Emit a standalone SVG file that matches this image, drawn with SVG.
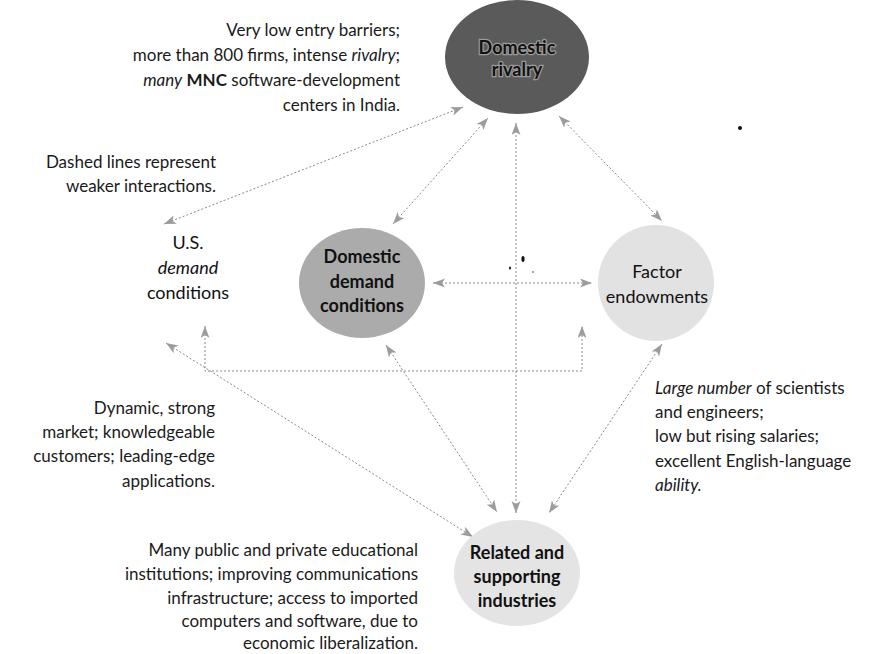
<svg xmlns="http://www.w3.org/2000/svg" width="881" height="654" viewBox="0 0 881 654">
<defs>
<style>
.t{font-family:Lato,"Open Sans","Liberation Sans",sans-serif;font-size:17px;fill:#1a1a1a}
.e{text-anchor:end}
.m{text-anchor:middle}
.n{font-family:Lato,"Open Sans","Liberation Sans",sans-serif;font-size:18px;text-anchor:middle;fill:#111}
.b{font-weight:bold}
.i{font-style:italic}
.c{fill:none;stroke:#8a8a8a;stroke-width:1;stroke-dasharray:2 2;marker-start:url(#ah);marker-end:url(#ah)}
.halo{paint-order:stroke;stroke:#9a9a9a;stroke-width:2.5px}
</style>
<marker id="ah" markerUnits="userSpaceOnUse" markerWidth="14" markerHeight="10" refX="12" refY="4.5" orient="auto-start-reverse">
<path d="M0,0 L12,4.5 L0,9 L3,4.5 z" fill="#9c9c9c"/>
</marker>
</defs>
<rect width="881" height="654" fill="#fff"/>

<g id="connectors">
<line class="c" x1="164" y1="224" x2="463" y2="107"/>
<line class="c" x1="393" y1="224" x2="488" y2="118"/>
<line class="c" x1="516" y1="123" x2="516" y2="513"/>
<line class="c" x1="559" y1="116" x2="662" y2="221"/>
<line class="c" x1="433" y1="283" x2="592" y2="283"/>
<path class="c" d="M205,326 V371 H582 V326"/>
<line class="c" x1="166" y1="343" x2="473" y2="537"/>
<line class="c" x1="386" y1="345" x2="497" y2="512"/>
<line class="c" x1="662" y1="344" x2="549" y2="513"/>
</g>

<g id="domestic-rivalry">
<ellipse cx="517" cy="57" rx="72" ry="57" fill="#5a5a5a"/>
<text class="n b halo" x="517" y="54">Domestic</text>
<text class="n b halo" x="517" y="76">rivalry</text>
</g>

<g id="domestic-demand">
<ellipse cx="362" cy="283" rx="63" ry="55" fill="#ababab"/>
<text class="n b" x="362" y="263">Domestic</text>
<text class="n b" x="362" y="288">demand</text>
<text class="n b" x="362" y="312">conditions</text>
</g>

<g id="factor-endowments">
<ellipse cx="656" cy="283" rx="58" ry="58" fill="#e2e2e2"/>
<text class="n" x="657" y="278">Factor</text>
<text class="n" x="657" y="303">endowments</text>
</g>

<g id="related-supporting">
<ellipse cx="517" cy="573" rx="63" ry="53" fill="#e4e4e4"/>
<text class="n b" x="517" y="559">Related and</text>
<text class="n b" x="517" y="583">supporting</text>
<text class="n b" x="517" y="607">industries</text>
</g>

<g id="us-demand">
<text class="n" x="188" y="249">U.S.</text>
<text class="n i" x="188" y="274">demand</text>
<text class="n" x="188" y="299">conditions</text>
</g>

<g id="annotations">
<text class="t e" x="400" y="36">Very low entry barriers;</text>
<text class="t e" x="400" y="61">more than 800 firms, intense <tspan class="i">rivalry</tspan>;</text>
<text class="t e" x="400" y="86"><tspan class="i">many</tspan> <tspan font-weight="bold">MNC</tspan> software-development</text>
<text class="t e" x="400" y="111">centers in India.</text>

<text class="t e" x="216" y="168">Dashed lines represent</text>
<text class="t e" x="216" y="192">weaker interactions.</text>

<text class="t e" x="215" y="414">Dynamic, strong</text>
<text class="t e" x="215" y="438">market; knowledgeable</text>
<text class="t e" x="215" y="462">customers; leading-edge</text>
<text class="t e" x="215" y="487">applications.</text>

<text class="t" x="655" y="394"><tspan class="i">Large number</tspan> of scientists</text>
<text class="t" x="655" y="418">and engineers;</text>
<text class="t" x="655" y="442">low but rising salaries;</text>
<text class="t" x="655" y="467">excellent English-language</text>
<text class="t i" x="655" y="491">ability.</text>

<text class="t e" x="418" y="556">Many public and private educational</text>
<text class="t e" x="418" y="580">institutions; improving communications</text>
<text class="t e" x="418" y="604">infrastructure; access to imported</text>
<text class="t e" x="418" y="627">computers and software, due to</text>
<text class="t e" x="418" y="649">economic liberalization.</text>
</g>

<g id="specks" fill="#111">
<ellipse cx="740" cy="128" rx="2" ry="2"/>
<ellipse cx="523" cy="259" rx="1.6" ry="3"/>
<ellipse cx="510" cy="268" rx="1" ry="1.5"/>
<circle cx="533" cy="272" r="0.7"/>
</g>
</svg>
